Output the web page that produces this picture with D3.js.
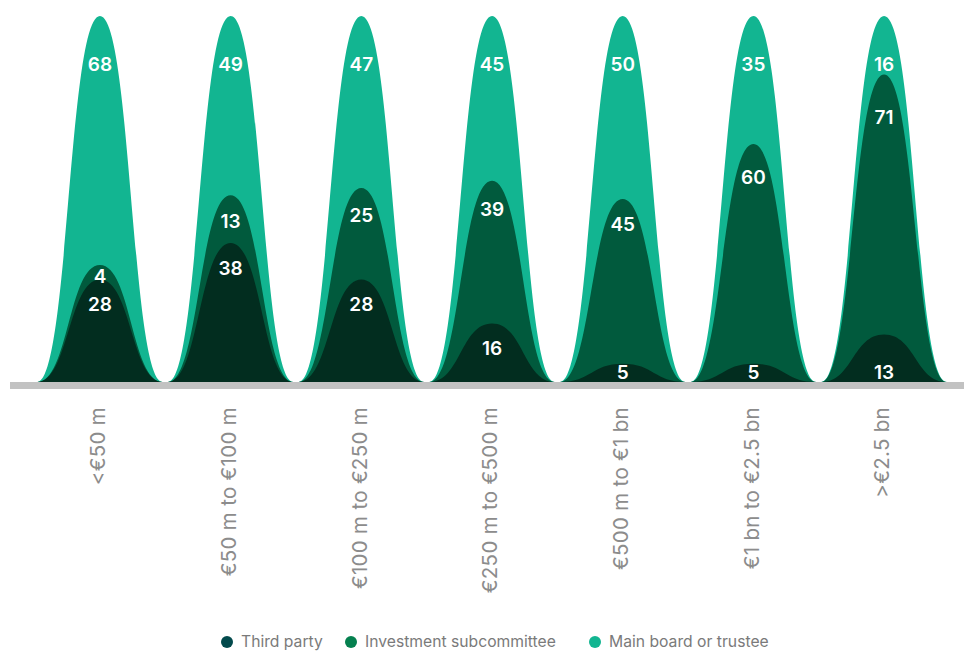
<!DOCTYPE html>
<html>
<head>
<meta charset="utf-8">
<script src="https://cdn.jsdelivr.net/npm/d3@7"></script>
<style>
  html, body { margin: 0; padding: 0; background: #ffffff; }
  svg { display: block; }
  .lbl { font-family: Inter, "Noto Sans", sans-serif; font-weight: 600; font-size: 19px; fill: #ffffff; }
  .axis-lbl { font-family: Inter, "Noto Sans", sans-serif; font-weight: 400; font-size: 20.5px; letter-spacing: 0.3px; fill: #8c8c8c; }
  .legend-lbl { font-family: Inter, "Noto Sans", sans-serif; font-weight: 400; font-size: 15.7px; fill: #7a7a7a; }
</style>
</head>
<body>
<svg id="chart" width="964" height="652"></svg>
<script>
// Fund size bands
const categories = ["<€50 m", "€50 m to €100 m", "€100 m to €250 m", "€250 m to €500 m",
                    "€500 m to €1 bn", "€1 bn to €2.5 bn", ">€2.5 bn"];

// Share of respondents (%) per band
const thirdParty   = [28, 38, 28, 16, 5, 5, 13];
const subcommittee = [4, 13, 25, 39, 45, 60, 71];
const mainBoard    = [68, 49, 47, 45, 50, 35, 16];

const seriesNames  = ["Third party", "Investment subcommittee", "Main board or trustee"];

const W = 964, H = 652;
const baseY = 382, topY = 16;

const svg = d3.select("#chart");

const x = d3.scaleBand().domain(categories).range([32, 952]).padding(0.04);
const y = d3.scaleLinear().domain([0, 100]).range([baseY, topY]);

const fills  = { third: "#022d1f", sub: "#015a3d", main: "#12b591" };
const dots   = ["#034a4c", "#05804f", "#12b591"];

// Stacked bell layers: each bell reaches the cumulative share of its series
const rows = categories.map((c, i) => {
  const t = thirdParty[i], s = subcommittee[i], m = mainBoard[i];
  return { cat: c, third: t, sub: s, main: m, cumThird: t, cumSub: t + s, cumMain: t + s + m };
});

function bell(cx, hw, yTop) {
  const p = d3.path();
  p.moveTo(cx - hw, baseY);
  p.bezierCurveTo(cx - hw / 2, baseY, cx - hw / 2, yTop, cx, yTop);
  p.bezierCurveTo(cx + hw / 2, yTop, cx + hw / 2, baseY, cx + hw, baseY);
  p.closePath();
  return p.toString();
}

const hw = x.bandwidth() / 2;
const layers = [
  { key: "cumMain",  fill: fills.main },
  { key: "cumSub",   fill: fills.sub },
  { key: "cumThird", fill: fills.third }
];

const g = svg.append("g");
layers.forEach(L => {
  g.selectAll(null).data(rows).join("path")
    .attr("d", d => bell(x(d.cat) + hw, hw, y(d[L.key])))
    .attr("fill", L.fill);
});

// Baseline
svg.append("rect")
  .attr("x", 10).attr("y", baseY)
  .attr("width", W - 10).attr("height", 7)
  .attr("fill", "#c2c2c2");

// Value labels: placed a little below each bell's peak, deeper for taller bells
function labelY(cum) {
  const peak = y(cum);
  const h = baseY - peak;
  return peak + Math.max(0.14 * h, 25);
}

const lblG = svg.append("g");
rows.forEach(d => {
  const cx = x(d.cat) + hw;
  const yMain = y(100) + 48;
  let yThird = d.third < 15 ? baseY - 10 : Math.min(labelY(d.cumThird), baseY - 10);
  let ySub = Math.min(labelY(d.cumSub), yThird - 28);
  const items = [
    { v: d.main, y: yMain },
    { v: d.sub, y: ySub },
    { v: d.third, y: yThird }
  ];
  items.forEach(it => {
    lblG.append("text").attr("class", "lbl")
      .attr("x", cx).attr("y", it.y)
      .attr("text-anchor", "middle")
      .attr("dy", "0.36em")
      .text(it.v);
  });
});

// Category labels, rotated
const axG = svg.append("g");
categories.forEach(c => {
  const cx = x(c) + hw;
  axG.append("text").attr("class", "axis-lbl")
    .attr("transform", `translate(${cx - 2},407) rotate(-90)`)
    .attr("text-anchor", "end")
    .attr("dy", "0.35em")
    .text(c);
});

// Legend
const legend = svg.append("g");
const legendX = [227, 351, 595];
seriesNames.forEach((n, i) => {
  legend.append("circle").attr("cx", legendX[i]).attr("cy", 642).attr("r", 6).attr("fill", dots[i]);
  legend.append("text").attr("class", "legend-lbl")
    .attr("x", legendX[i] + 14).attr("y", 642).attr("dy", "0.35em")
    .text(n);
});
</script>
</body>
</html>
